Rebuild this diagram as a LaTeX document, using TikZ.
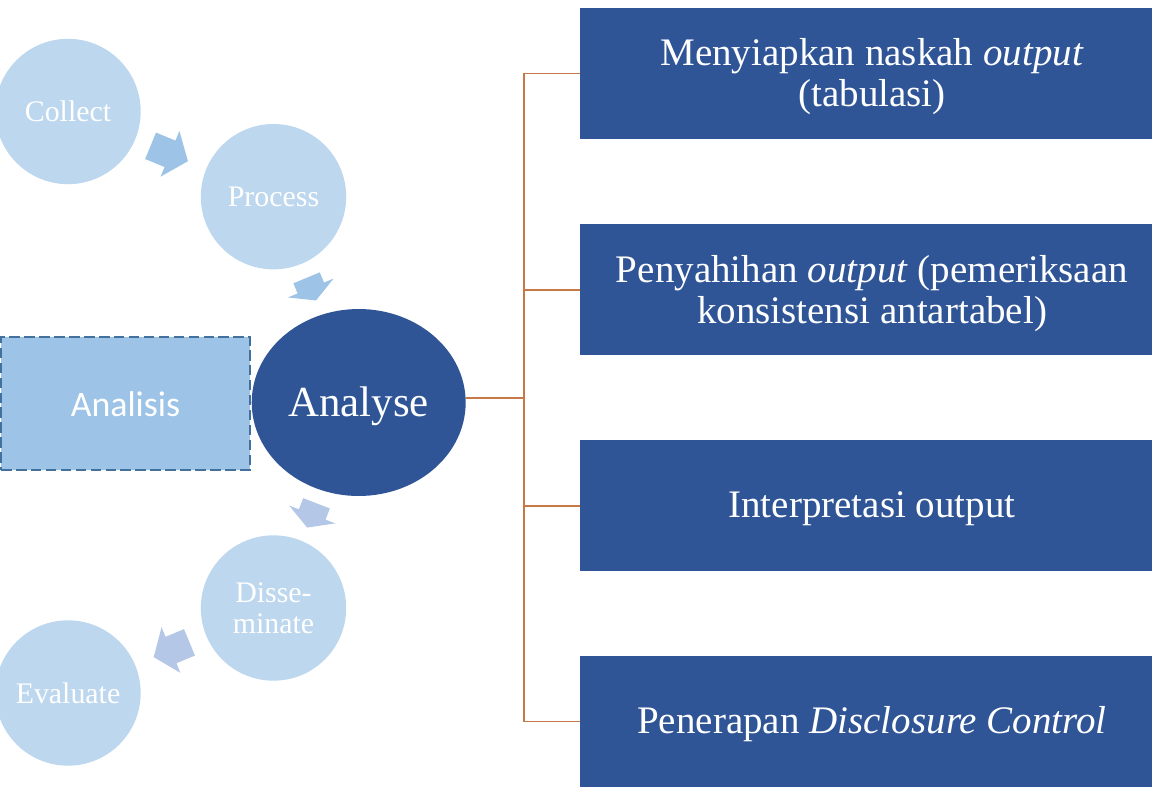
\documentclass[tikz,border=0pt]{standalone}
\usepackage{fontspec}
\setmainfont{Liberation Serif}
\newfontfamily\calibrifont{Carlito}
\usetikzlibrary{shapes.geometric}

\definecolor{circfill}{HTML}{BDD7EE}
\definecolor{arrowA}{HTML}{9DC3E6}
\definecolor{arrowB}{HTML}{B4C7E7}
\definecolor{darkblue}{HTML}{2F5597}
\definecolor{dashblue}{HTML}{41719C}
\definecolor{linkorange}{RGB}{200,120,70}

% block arrow: colour, head-base x, y, rotation, shaft length, head length
\newcommand{\flowarrow}[6]{%
  \fill[#1,shift={(#2,#3)},rotate=#4]
    (-#5,-14.3) -- (0,-14.3) -- (0,-24.7) -- (#6,0) -- (0,24.7)
    -- (0,14.3) -- (-#5,14.3) -- cycle;}

\begin{document}
\begin{tikzpicture}[x=0.02cm,y=-0.02cm,
  stage/.style={circle,fill=circfill,minimum size=2.908cm,inner sep=0pt,
    text=white,align=center,font=\fontsize{17}{17.6}\selectfont},
  stepbox/.style={rectangle,fill=darkblue,minimum width=11.68cm,
    minimum height=2.62cm,inner sep=0pt},
  boxtext/.style={inner sep=0pt,text=white,align=center,
    font=\fontsize{22.2}{23.3}\selectfont},
  link/.style={draw=linkorange,line width=0.8pt}]
\useasboundingbox (0,0) rectangle (1152,787);

% cycle stages
\node[stage] (collect) at (68,111.5) {Collect};
\node[stage] (process) at (273.5,196.7) {Process};
\node[stage] (dissem) at (273.5,608) {Disse-\\minate};
\node[stage] (evaluate) at (68,693) {Evaluate};

% highlighted stage
\node[ellipse,fill=darkblue,minimum width=4.28cm,minimum height=3.74cm,
  inner sep=0pt,text=white,font=\fontsize{24.4}{26}\selectfont,
  text height=16pt,text depth=0pt]
  (analyse) at (358.7,402.5) {Analyse};

% label box
\node[rectangle,fill=arrowA,draw=dashblue,line width=1.2pt,
  dash pattern=on 6pt off 2.5pt,minimum width=4.98cm,minimum height=2.666cm,
  inner sep=0pt,text=white,font=\calibrifont\fontsize{20.4}{22}\selectfont,
  text height=15.2pt,text depth=0pt]
  (analisis) at (125.5,403.35) {Analisis};

% cycle arrows
\flowarrow{arrowA}{170}{153.8}{-22.4}{21}{19.4}
\flowarrow{arrowA}{310.8}{288}{-67.5}{11}{13.5}
\flowarrow{arrowB}{312.2}{514.5}{-111.2}{12}{14}
\flowarrow{arrowB}{171}{650}{-157.5}{20}{18.7}

% activity boxes
\node[stepbox] (box1) at (872,73.3) {};
\node[stepbox] (box2) at (872,289.9) {};
\node[stepbox] (box3) at (872,505.9) {};
\node[stepbox] (box4) at (872,721.5) {};
\node[boxtext] (box1text) at ([yshift=-0.07cm]box1.center) {Menyiapkan naskah \textit{output}\\(tabulasi)};
\node[boxtext] (box2text) at ([yshift=-0.07cm]box2.center) {Penyahihan \textit{output} (pemeriksaan\\konsistensi antartabel)};
\node[boxtext,text height=13.7pt,text depth=0pt] (box3text) at (box3.center) {Interpretasi output};
\node[boxtext,text height=13.3pt,text depth=0pt] (box4text) at (box4.center) {Penerapan \textit{Disclosure Control}};

% connectors
\coordinate (hub) at (524,398);
\draw[link] (analyse.east |- hub) -- (hub);
\draw[link] (box1.west -| hub) -- (box4.west -| hub);
\draw[link] (hub |- box1.west) -- (box1.west);
\draw[link] (hub |- box2.west) -- (box2.west);
\draw[link] (hub |- box3.west) -- (box3.west);
\draw[link] (hub |- box4.west) -- (box4.west);
\end{tikzpicture}
\end{document}
